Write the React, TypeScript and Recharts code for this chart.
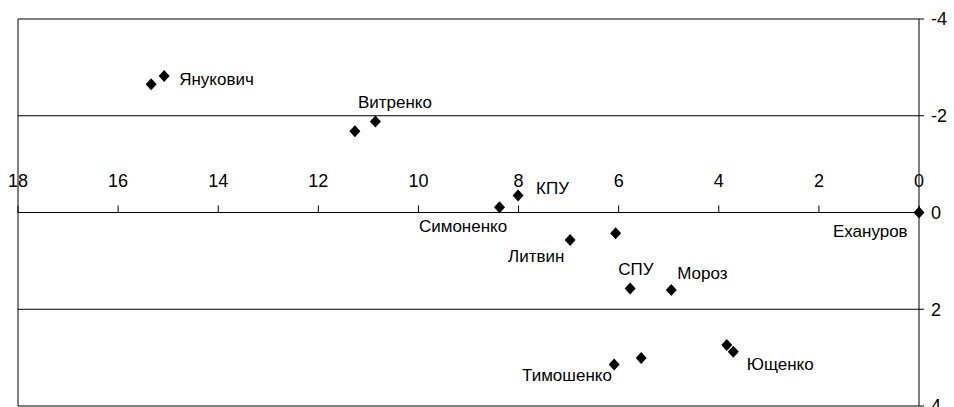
import React from 'react';
import { ScatterChart, Scatter, XAxis, YAxis, CartesianGrid, ReferenceLine } from 'recharts';

const FONT = '"Liberation Sans", Arial, sans-serif';

// scatter points (x = horizontal value, y = vertical value)
const pointX = [15.34, 15.08, 11.27, 10.86, 8.01, 8.38, 6.97, 6.06, 5.77, 4.95, 6.09, 5.55, 3.84, 3.71, 0];
const pointY = [-2.65, -2.82, -1.68, -1.88, -0.35, -0.11, 0.57, 0.43, 1.57, 1.6, 3.14, 3.01, 2.74, 2.88, 0];

// text annotations (anchor at left edge / vertical centre of text, data units)
const labelNames = ['Янукович', 'Витренко', 'КПУ', 'Симоненко', 'Литвин', 'СПУ', 'Мороз', 'Тимошенко', 'Ющенко', 'Ехануров'];
const labelX = [14.78, 11.21, 7.65, 9.99, 8.21, 6.01, 4.83, 7.93, 3.44, 1.72];
const labelY = [-2.74, -2.27, -0.49, 0.29, 0.9, 1.17, 1.27, 3.36, 3.15, 0.4];

// axis ticks
const xTicks = [18, 16, 14, 12, 10, 8, 6, 4, 2, 0];
const yTicks = [-4, -2, 0, 2, 4];

const points = pointX.map((x, i) => ({ x, y: pointY[i] }));
const labels = labelNames.map((name, i) => ({ x: labelX[i], y: labelY[i], name }));
const xTickData = xTicks.map((t) => ({ x: t, y: 0, name: String(t) }));

const Diamond = (props: any) => {
  const { cx, cy } = props;
  if (cx == null || cy == null) return null;
  return (
    <polygon
      points={`${cx},${cy - 6} ${cx + 5.5},${cy} ${cx},${cy + 6} ${cx - 5.5},${cy}`}
      fill="#000"
    />
  );
};

const LabelShape = (props: any) => {
  const { cx, cy, payload } = props;
  if (cx == null || cy == null) return null;
  return (
    <text x={cx} y={cy} textAnchor="start" dominantBaseline="central" fontSize={17} fontFamily={FONT} fill="#000">
      {payload.name}
    </text>
  );
};

const XTickShape = (props: any) => {
  const { cx, cy, payload } = props;
  if (cx == null || cy == null) return null;
  return (
    <g>
      <line x1={cx} y1={cy} x2={cx} y2={cy - 7} stroke="#000" strokeWidth={1} />
      <text x={cx} y={cy - 32} textAnchor="middle" dominantBaseline="central" fontSize={18} fontFamily={FONT} fill="#000">
        {payload.name}
      </text>
    </g>
  );
};

export default function App() {
  return (
    <div style={{ position: 'absolute', left: 0, top: 0, background: '#fff' }}>
      <ScatterChart width={954} height={407} margin={{ top: 19, right: 0, bottom: 1, left: 18 }}>
        <CartesianGrid vertical={false} horizontal stroke="#000" strokeOpacity={1} />
        <XAxis type="number" dataKey="x" domain={[0, 18]} reversed hide />
        <YAxis
          type="number"
          dataKey="y"
          orientation="right"
          domain={[-4, 4]}
          ticks={yTicks}
          reversed
          width={35}
          interval={0}
          axisLine={{ stroke: '#000' }}
          tickLine={{ stroke: '#000' }}
          tickSize={5}
          tickMargin={7}
          tick={{ fill: '#000', fontSize: 18, fontFamily: FONT }}
        />
        <ReferenceLine x={18} stroke="#000" ifOverflow="visible" />
        <ReferenceLine y={0} stroke="#000" />
        <Scatter data={xTickData} shape={<XTickShape />} isAnimationActive={false} />
        <Scatter data={points} shape={<Diamond />} isAnimationActive={false} />
        <Scatter data={labels} shape={<LabelShape />} isAnimationActive={false} />
      </ScatterChart>
    </div>
  );
}
